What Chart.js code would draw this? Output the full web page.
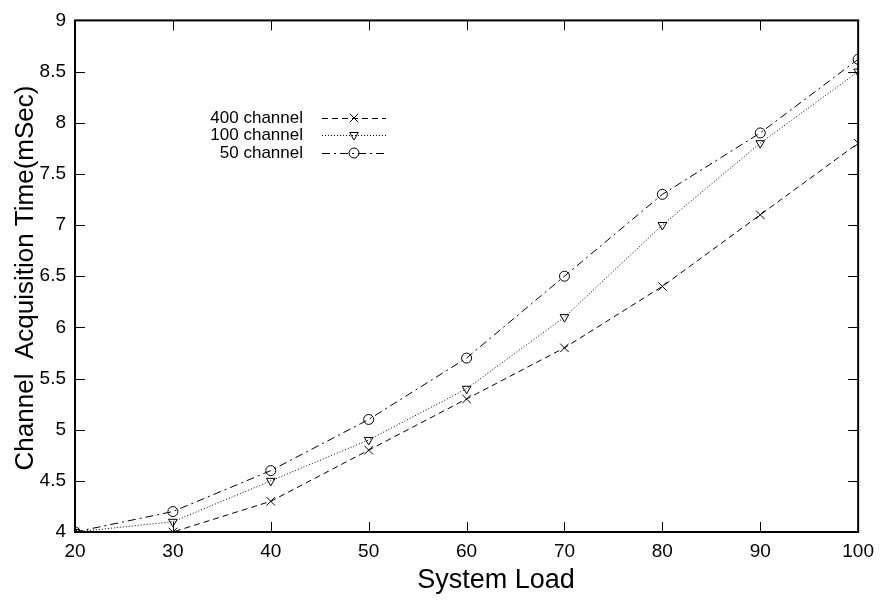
<!DOCTYPE html>
<html><head><meta charset="utf-8">
<script src="https://cdn.jsdelivr.net/npm/chart.js@4/dist/chart.umd.min.js"></script>
<style>html,body{margin:0;padding:0;background:#fff}#wrap{width:882px;height:600px}</style>
</head><body><div id="wrap"><canvas id="c" width="882" height="600"></canvas></div>
<script>
const systemLoad = [20, 30, 40, 50, 60, 70, 80, 90, 100];
const ch400 = [4.0, 4.0, 4.3, 4.8, 5.3, 5.8, 6.4, 7.1, 7.8];
const ch100 = [4.0, 4.1, 4.5, 4.9, 5.4, 6.1, 7.0, 7.8, 8.5];
const ch50  = [4.0, 4.2, 4.6, 5.1, 5.7, 6.5, 7.3, 7.9, 8.62];
const seriesNames = ['400 channel', '100 channel', '50 channel'];
const yTicks = [4, 4.5, 5, 5.5, 6, 6.5, 7, 7.5, 8, 8.5, 9];
const xTicks = [20, 30, 40, 50, 60, 70, 80, 90, 100];
const xTitle = 'System Load';
const yTitle = 'Channel  Acquisition Time(mSec)';

const FONT = "'Liberation Sans', Arial, Helvetica, sans-serif";
const toXY = arr => arr.map((v, i) => ({x: systemLoad[i], y: v}));

const frameTicks = {
  id: 'frameTicks',
  afterDatasetsDraw(chart) {
    const {ctx, chartArea: a, scales} = chart;
    ctx.save();
    ctx.strokeStyle = '#000';
    ctx.lineWidth = 1;
    ctx.beginPath();
    yTicks.forEach(v => {
      const y = Math.round(scales.y.getPixelForValue(v)) + 0.5;
      ctx.moveTo(a.left, y); ctx.lineTo(a.left + 10, y);
      ctx.moveTo(a.right, y); ctx.lineTo(a.right - 10, y);
    });
    xTicks.forEach(v => {
      const x = Math.round(scales.x.getPixelForValue(v)) + 0.5;
      ctx.moveTo(x, a.bottom); ctx.lineTo(x, a.bottom - 10);
      ctx.moveTo(x, a.top); ctx.lineTo(x, a.top + 10);
    });
    ctx.stroke();
    ctx.lineWidth = 2;
    ctx.strokeRect(a.left, a.top, a.right - a.left, a.bottom - a.top);
    ctx.restore();
  }
};

const titlesAndLegend = {
  id: 'titlesAndLegend',
  afterDraw(chart) {
    const {ctx} = chart;
    ctx.save();
    ctx.fillStyle = '#000';
    ctx.font = '27px ' + FONT;
    ctx.textAlign = 'center';
    ctx.textBaseline = 'alphabetic';
    ctx.fillText(xTitle, 496, 588);
    ctx.font = '26px ' + FONT;
    ctx.save();
    ctx.translate(33, 278);
    ctx.rotate(-Math.PI / 2);
    ctx.fillText(yTitle, 0, 0);
    ctx.restore();

    ctx.font = '17px ' + FONT;
    ctx.textAlign = 'right';
    ctx.textBaseline = 'middle';
    const rows = [118, 135, 153];
    chart.data.datasets.forEach((ds, i) => {
      const y = rows[i];
      ctx.fillStyle = '#000';
      ctx.fillText(ds.label, 303, y);
      ctx.strokeStyle = '#000';
      ctx.lineWidth = 1;
      ctx.setLineDash(ds.borderDash);
      ctx.beginPath();
      ctx.moveTo(322, y + 0.5); ctx.lineTo(386, y + 0.5);
      ctx.stroke();
      ctx.setLineDash([]);
      ctx.fillStyle = 'rgba(0,0,0,0)';
      Chart.helpers.drawPoint(ctx, {
        pointStyle: ds.pointStyle, radius: ds.pointRadius,
        rotation: ds.pointRotation || 0, borderWidth: 1
      }, 354, y);
    });
    ctx.restore();
  }
};

const common = {
  borderColor: '#000', borderWidth: 1, backgroundColor: 'rgba(0,0,0,0)',
  pointBorderColor: '#000', pointBackgroundColor: 'rgba(0,0,0,0)',
  pointBorderWidth: 1, pointRadius: 5, tension: 0, fill: false
};

new Chart(document.getElementById('c'), {
  type: 'line',
  data: {
    datasets: [
      Object.assign({}, common, {label: seriesNames[0], data: toXY(ch400), borderDash: [6, 4], pointStyle: 'crossRot', pointRadius: 6}),
      Object.assign({}, common, {label: seriesNames[1], data: toXY(ch100), borderDash: [1, 2], pointStyle: 'triangle', pointRotation: 180, pointRadius: 5}),
      Object.assign({}, common, {label: seriesNames[2], data: toXY(ch50), borderDash: [8, 4, 2, 4], pointStyle: 'circle', pointRadius: 5})
    ]
  },
  options: {
    responsive: false, animation: false, devicePixelRatio: 1,
    layout: {padding: {left: 0, right: 20, top: 15, bottom: 0}},
    plugins: {legend: {display: false}, tooltip: {enabled: false}},
    scales: {
      x: {
        type: 'linear', min: 20, max: 100,
        afterBuildTicks: s => { s.ticks = xTicks.map(v => ({value: v})); },
        afterFit: s => { s.height = 68; },
        grid: {display: false, drawTicks: false},
        border: {display: false},
        ticks: {color: '#000', font: {family: FONT, size: 19}, padding: 8, maxRotation: 0, autoSkip: false},
        title: {display: false}
      },
      y: {
        type: 'linear', min: 4, max: 9,
        afterBuildTicks: s => { s.ticks = yTicks.map(v => ({value: v})); },
        afterFit: s => { s.width = 75; },
        grid: {display: false, drawTicks: false},
        border: {display: false},
        ticks: {color: '#000', font: {family: FONT, size: 19}, padding: 9, autoSkip: false,
                callback: v => String(v)},
        title: {display: false}
      }
    }
  },
  plugins: [frameTicks, titlesAndLegend]
});
</script>
</body></html>
